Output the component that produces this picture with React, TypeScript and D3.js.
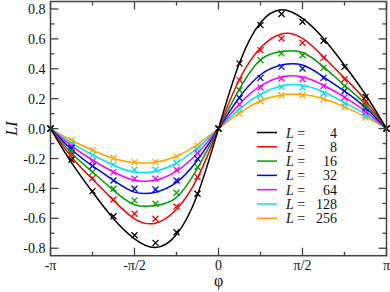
import React, { useRef, useEffect } from 'react';
import * as d3 from 'd3';

const PI = Math.PI;
// phi grid: k * pi/8, k = -8..8
const phiSteps = [-8, -7, -6, -5, -4, -3, -2, -1, 0, 1, 2, 3, 4, 5, 6, 7, 8];

const sizes = [4, 8, 16, 32, 64, 128, 256];
const colors = ['#000000', '#ff0000', '#00a000', '#0000ff', '#ff00ff', '#00e5ee', '#ffa500'];

// theory curves, read at phi = k*pi/8
const line4 = [0, -0.228, -0.424, -0.603, -0.737, -0.795, -0.708, -0.44, 0, 0.44, 0.708, 0.795, 0.737, 0.603, 0.424, 0.228, 0];
const line8 = [0, -0.19, -0.339, -0.48, -0.603, -0.633, -0.54, -0.33, 0, 0.33, 0.54, 0.633, 0.603, 0.48, 0.339, 0.19, 0];
const line16 = [0, -0.163, -0.29, -0.413, -0.509, -0.515, -0.46, -0.265, 0, 0.265, 0.46, 0.515, 0.509, 0.413, 0.29, 0.163, 0];
const line32 = [0, -0.14, -0.25, -0.346, -0.425, -0.425, -0.36, -0.21, 0, 0.21, 0.36, 0.425, 0.425, 0.346, 0.25, 0.14, 0];
const line64 = [0, -0.115, -0.21, -0.29, -0.345, -0.345, -0.285, -0.165, 0, 0.165, 0.285, 0.345, 0.345, 0.29, 0.21, 0.115, 0];
const line128 = [0, -0.095, -0.175, -0.245, -0.29, -0.285, -0.23, -0.13, 0, 0.13, 0.23, 0.285, 0.29, 0.245, 0.175, 0.095, 0];
const line256 = [0, -0.078, -0.145, -0.2, -0.228, -0.225, -0.185, -0.105, 0, 0.105, 0.185, 0.225, 0.228, 0.2, 0.145, 0.078, 0];

// simulation points (crosses)
const pts4 = [0, -0.208, -0.418, -0.586, -0.713, -0.764, -0.693, -0.436, 0, 0.436, 0.692, 0.766, 0.715, 0.587, 0.413, 0.212, 0];
const pts8 = [0, -0.174, -0.331, -0.474, -0.57, -0.603, -0.521, -0.324, 0, 0.324, 0.525, 0.603, 0.574, 0.473, 0.33, 0.178, 0];
const pts16 = [0, -0.152, -0.291, -0.402, -0.48, -0.503, -0.429, -0.257, 0, 0.257, 0.458, 0.503, 0.491, 0.406, 0.284, 0.149, 0];
const pts32 = [0, -0.13, -0.25, -0.347, -0.402, -0.407, -0.347, -0.201, 0, 0.205, 0.339, 0.413, 0.402, 0.339, 0.252, 0.134, 0];
const pts64 = [0, -0.119, -0.219, -0.291, -0.335, -0.335, -0.275, -0.163, 0, 0.161, 0.275, 0.335, 0.33, 0.284, 0.208, 0.111, 0];
const pts128 = [0, -0.1, -0.179, -0.241, -0.275, -0.275, -0.23, -0.141, 0, 0.127, 0.223, 0.279, 0.275, 0.235, 0.168, 0.089, 0];
const pts256 = [0, -0.078, -0.145, -0.197, -0.224, -0.224, -0.186, -0.112, 0, 0.1, 0.183, 0.223, 0.223, 0.198, 0.145, 0.074, 0];

const lines = [line4, line8, line16, line32, line64, line128, line256];
const points = [pts4, pts8, pts16, pts32, pts64, pts128, pts256];

const xTicks = [-PI, -PI / 2, 0, PI / 2, PI];
const xTickLabels = ['-\u03c0', '-\u03c0/2', '0', '\u03c0/2', '\u03c0'];
const yTicks = [-0.8, -0.6, -0.4, -0.2, 0, 0.2, 0.4, 0.6, 0.8];

const W = 390, H = 292;
const FONT = '"Liberation Serif", "Times New Roman", serif';

const App = () => {
  const ref = useRef<SVGSVGElement>(null);

  useEffect(() => {
    const svg = d3.select(ref.current);
    svg.selectAll('*').remove();

    const x = d3.scaleLinear().domain([-PI, PI]).range([50.5, 386.5]);
    const y = d3.scaleLinear().domain([-0.85, 0.85]).range([255.7, 1.5]);
    const [x0, x1] = x.range();
    const [y0, y1] = y.range();

    const plot = svg.append('g');

    const line = d3.line<number>()
      .x((_, i) => x(phiSteps[i] * PI / 8))
      .y(d => y(d))
      .curve(d3.curveNatural);

    // draw from smallest amplitude to largest so black sits on top
    for (let s = lines.length - 1; s >= 0; s--) {
      plot.append('path')
        .attr('d', line(lines[s]))
        .attr('fill', 'none')
        .attr('stroke', colors[s])
        .attr('stroke-width', 1.5);

      const c = 3;
      points[s].forEach((v, i) => {
        const px = x(phiSteps[i] * PI / 8), py = y(v);
        plot.append('path')
          .attr('d', `M${px - c},${py - c}L${px + c},${py + c}M${px - c},${py + c}L${px + c},${py - c}`)
          .attr('stroke', colors[s])
          .attr('stroke-width', 1.3)
          .attr('fill', 'none');
      });
    }

    // frame
    const axisColor = '#444';
    svg.append('rect')
      .attr('x', x0).attr('y', y1)
      .attr('width', x1 - x0).attr('height', y0 - y1)
      .attr('fill', 'none')
      .attr('stroke', axisColor)
      .attr('stroke-width', 1.5);

    const ticks = svg.append('g').attr('stroke', axisColor).attr('stroke-width', 1.3);
    const major = 8, minor = 4;
    d3.range(-4, 5).forEach(k => {
      const px = x(k * PI / 4);
      const len = k % 2 === 0 ? major : minor;
      ticks.append('line').attr('x1', px).attr('x2', px).attr('y1', y0).attr('y2', y0 - len);
      ticks.append('line').attr('x1', px).attr('x2', px).attr('y1', y1).attr('y2', y1 + len);
    });
    d3.range(-8, 9).forEach(k => {
      const py = y(k / 10);
      const len = k % 2 === 0 ? major : minor;
      ticks.append('line').attr('y1', py).attr('y2', py).attr('x1', x0).attr('x2', x0 + len);
      ticks.append('line').attr('y1', py).attr('y2', py).attr('x1', x1).attr('x2', x1 - len);
    });

    const txt = svg.append('g').attr('font-family', FONT).attr('fill', '#111');
    yTicks.forEach(t => {
      txt.append('text')
        .attr('x', x0 - 5).attr('y', y(t) + 5)
        .attr('text-anchor', 'end')
        .attr('font-size', 14)
        .text(t.toFixed(1));
    });
    xTicks.forEach((t, i) => {
      txt.append('text')
        .attr('x', x(t)).attr('y', 270)
        .attr('text-anchor', 'middle')
        .attr('font-size', 14)
        .text(xTickLabels[i]);
    });

    txt.append('text')
      .attr('x', x(0)).attr('y', 286)
      .attr('text-anchor', 'middle')
      .attr('font-size', 16)
      .text('\u03c6');

    txt.append('text')
      .attr('transform', `translate(17,${y(0)}) rotate(-90)`)
      .attr('text-anchor', 'middle')
      .attr('font-size', 16)
      .attr('font-style', 'italic')
      .text('LI');

    // legend
    const legend = svg.append('g').attr('font-family', FONT).attr('font-size', 14).attr('fill', '#111');
    sizes.forEach((L, i) => {
      const ly = 132.5 + i * 14.3;
      legend.append('line')
        .attr('x1', 257).attr('x2', 277)
        .attr('y1', ly).attr('y2', ly)
        .attr('stroke', colors[i]).attr('stroke-width', 1.5);
      const t = legend.append('text').attr('x', 286).attr('y', ly + 5);
      t.append('tspan').attr('font-style', 'italic').text('L');
      t.append('tspan').text(' =');
      legend.append('text')
        .attr('x', 337).attr('y', ly + 5)
        .attr('text-anchor', 'end')
        .text(L);
    });
  }, []);

  return (
    <svg ref={ref} width={W} height={H}
      style={{ position: 'absolute', left: 0, top: 0, background: '#fff' }} />
  );
};

export default App;
